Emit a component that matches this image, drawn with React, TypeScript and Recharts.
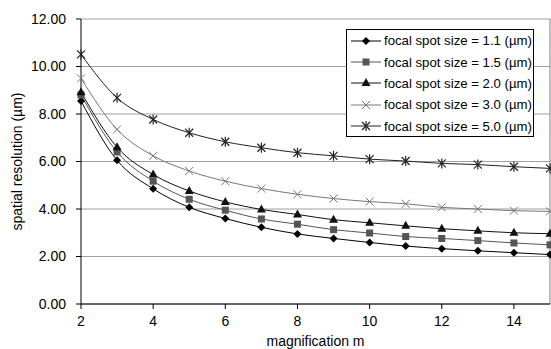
import { LineChart, Line, XAxis, YAxis, CartesianGrid, ReferenceLine } from 'recharts'

const magnification = [2, 3, 4, 5, 6, 7, 8, 9, 10, 11, 12, 13, 14, 15]

const res11 = [8.55, 6.05, 4.85, 4.07, 3.6, 3.23, 2.95, 2.76, 2.59, 2.44, 2.33, 2.24, 2.16, 2.08]
const res15 = [8.8, 6.4, 5.17, 4.41, 3.95, 3.58, 3.36, 3.13, 2.99, 2.84, 2.76, 2.67, 2.57, 2.49]
const res20 = [8.92, 6.6, 5.45, 4.76, 4.3, 3.98, 3.77, 3.55, 3.42, 3.29, 3.17, 3.08, 3.0, 2.96]
const res30 = [9.5, 7.35, 6.24, 5.6, 5.17, 4.86, 4.62, 4.44, 4.31, 4.22, 4.07, 4.0, 3.93, 3.9]
const res50 = [10.51, 8.68, 7.77, 7.21, 6.83, 6.58, 6.37, 6.24, 6.1, 6.02, 5.92, 5.87, 5.78, 5.71]

const xTicks = [2, 4, 6, 8, 10, 12, 14]
const yTicks = [0, 2, 4, 6, 8, 10, 12]

const data = magnification.map((m, i) => ({
  m,
  s11: res11[i],
  s15: res15[i],
  s20: res20[i],
  s30: res30[i],
  s50: res50[i],
}))

type Shape = 'diamond' | 'square' | 'triangle' | 'cross' | 'star'

const series: { key: string, name: string, shape: Shape, line: string, mark: string }[] = [
  { key: 's11', name: 'focal spot size = 1.1 (µm)', shape: 'diamond', line: '#000', mark: '#000' },
  { key: 's15', name: 'focal spot size = 1.5 (µm)', shape: 'square', line: '#555', mark: '#555' },
  { key: 's20', name: 'focal spot size = 2.0 (µm)', shape: 'triangle', line: '#111', mark: '#111' },
  { key: 's30', name: 'focal spot size = 3.0 (µm)', shape: 'cross', line: '#777', mark: '#777' },
  { key: 's50', name: 'focal spot size = 5.0 (µm)', shape: 'star', line: '#222', mark: '#222' },
]

const Marker = ({ shape, cx, cy, color }: { shape: Shape, cx: number, cy: number, color: string }) => {
  if (cx == null || cy == null) return null
  if (shape === 'diamond') {
    return <polygon points={`${cx},${cy - 4} ${cx + 4},${cy} ${cx},${cy + 4} ${cx - 4},${cy}`} fill={color} />
  }
  if (shape === 'square') {
    return <rect x={cx - 3.5} y={cy - 3.5} width={7} height={7} fill={color} />
  }
  if (shape === 'triangle') {
    return <polygon points={`${cx},${cy - 5} ${cx + 4.5},${cy + 3} ${cx - 4.5},${cy + 3}`} fill={color} />
  }
  if (shape === 'cross') {
    return (
      <g stroke={color} strokeWidth={1}>
        <line x1={cx - 4} y1={cy - 4} x2={cx + 4} y2={cy + 4} />
        <line x1={cx - 4} y1={cy + 4} x2={cx + 4} y2={cy - 4} />
      </g>
    )
  }
  return (
    <g stroke={color} strokeWidth={1.2}>
      <line x1={cx - 4} y1={cy - 4} x2={cx + 4} y2={cy + 4} />
      <line x1={cx - 4} y1={cy + 4} x2={cx + 4} y2={cy - 4} />
      <line x1={cx} y1={cy - 5} x2={cx} y2={cy + 5} />
    </g>
  )
}

const font = 'Arial, "Liberation Sans", sans-serif'

const LegendBox = () => (
  <div style={{
    position: 'absolute',
    left: 346,
    top: 29,
    background: '#fff',
    border: '1px solid #000',
    width: 186,
    height: 106,
    fontFamily: font,
    fontSize: '13.2px',
    color: '#000',
  }}>
    {series.map((s) => (
      <div key={s.key} style={{ display: 'flex', alignItems: 'center', height: 21.4 }}>
        <svg width={33} height={14} style={{ marginLeft: 4, flexShrink: 0 }}>
          <line x1={0} y1={7} x2={30} y2={7} stroke={s.line} strokeWidth={1} />
          <Marker shape={s.shape} cx={15} cy={7} color={s.mark} />
        </svg>
        <span style={{ whiteSpace: 'nowrap' }}>{s.name}</span>
      </div>
    ))}
  </div>
)

export default function App() {
  return (
    <div style={{ position: 'absolute', left: 0, top: 0, width: 551, height: 349, background: '#fff' }}>
      <LineChart width={551} height={349} data={data} margin={{ top: 19, right: 1, bottom: 0, left: 0 }}>
        <CartesianGrid horizontal vertical={false} stroke="#a0a0a0" />
        <XAxis
          dataKey="m"
          type="number"
          domain={[2, 15]}
          ticks={xTicks}
          height={45}
          stroke="#000"
          tickSize={5}
          tickMargin={7}
          tick={{ fill: '#000', fontSize: 14, fontFamily: font }}
          label={{
            content: ({ viewBox }: any) => (
              <text x={viewBox.x + viewBox.width / 2} y={346} textAnchor="middle"
                fontSize={14} fontFamily={font} fill="#000">magnification m</text>
            )
          }}
        />
        <YAxis
          type="number"
          domain={[0, 12]}
          ticks={yTicks}
          width={81}
          stroke="#000"
          tickSize={5}
          tickMargin={10}
          tickFormatter={(v: number) => v.toFixed(2)}
          tick={{ fill: '#000', fontSize: 14, fontFamily: font }}
          label={{
            content: ({ viewBox }: any) => {
              const cy = viewBox.y + viewBox.height / 2
              return (
                <text x={17} y={cy} textAnchor="middle" dominantBaseline="central"
                  transform={`rotate(-90, 17, ${cy})`}
                  fontSize={14} fontFamily={font} fill="#000">spatial resolution (µm)</text>
              )
            }
          }}
        />
        <ReferenceLine x={15} stroke="#808080" />
        {series.map((s) => (
          <Line
            key={s.key}
            dataKey={s.key}
            name={s.name}
            type="monotone"
            stroke={s.line}
            strokeWidth={1}
            isAnimationActive={false}
            dot={(p: any) => (
              <Marker key={`${s.key}-${p.index}`} shape={s.shape} cx={p.cx} cy={p.cy} color={s.mark} />
            )}
          />
        ))}
      </LineChart>
      <LegendBox />
    </div>
  )
}
